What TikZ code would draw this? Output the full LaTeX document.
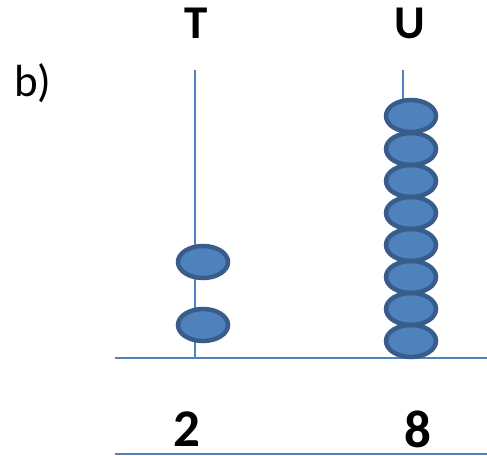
\documentclass[tikz,border=0pt]{standalone}
\usepackage{fontspec}
\setmainfont{Carlito}
\usetikzlibrary{shapes.geometric}
\definecolor{rodblue}{HTML}{4F81BD}
\definecolor{beadfill}{HTML}{4F81BD}
\definecolor{beadedge}{HTML}{385D8A}
\tikzset{
  rod/.style={draw=rodblue, line width=1.6pt},
  bead/.style={ellipse, draw=beadedge, fill=beadfill, line width=4.5pt, minimum width=50pt, minimum height=32pt, inner sep=0pt},
  headlbl/.style={font=\bfseries\fontsize{47}{47}\selectfont, inner sep=0pt},
  numlbl/.style={font=\bfseries\fontsize{53}{53}\selectfont, inner sep=0pt},
}
\begin{document}
\begin{tikzpicture}[x=1pt,y=-1pt]
\useasboundingbox (0,0) rectangle (487,455);
\node[headlbl] (T) at (196,23) {T};
\node[headlbl] (U) at (410,23) {U};
\node[font=\fontsize{45}{45}\selectfont, inner sep=0pt] (b) at (33,83) {b)};
\coordinate (Ttop) at (195,70);
\coordinate (Tbot) at (195,358);
\coordinate (Utop) at (403,70);
\coordinate (Ubot) at (403,358);
\coordinate (baseL) at (115,358);
\coordinate (baseR) at (487,358);
\coordinate (lowL) at (115,454);
\coordinate (lowR) at (487,454);
\draw[rod] (Ttop) -- (Tbot);
\draw[rod] (Utop) -- (Ubot);
\draw[rod] (baseL) -- (baseR);
\draw[rod] (lowL) -- (lowR);
\node[bead] (t1) at (203,262) {};
\node[bead] (t2) at (203,325) {};
\foreach \i/\y in {1/116,2/149,3/181,4/213,5/245,6/277,7/309,8/341}{
  \node[bead] (u\i) at (411,\y) {};
}
\node[numlbl] (n2) at (187,429) {2};
\node[numlbl] (n8) at (418,429) {8};
\end{tikzpicture}
\end{document}
